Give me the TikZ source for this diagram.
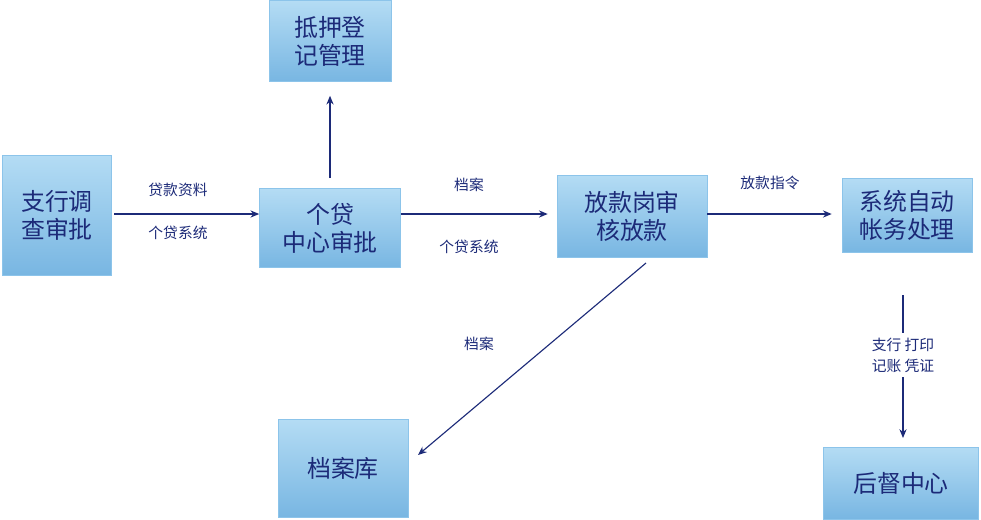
\documentclass[tikz,border=0pt]{standalone}
\usepackage{fontspec}
\setmainfont{Noto Sans CJK SC}
\usetikzlibrary{arrows.meta}
\definecolor{boxtop}{HTML}{B4DCF4}
\definecolor{boxbot}{HTML}{78B6E2}
\definecolor{boxline}{HTML}{8CC4EA}
\definecolor{ink}{HTML}{1C2A78}
\tikzset{
    x=0.025cm, y=-0.025cm,
    box/.style={draw=boxline, top color=boxtop, bottom color=boxbot, text=ink,
        font=\fontsize{17}{20}\selectfont, align=center, inner sep=0pt}, % blue boxes
    flow/.style={-{Stealth[length=2.2mm,width=1.8mm]}, draw=ink, thick}, % arrows
    lbl/.style={text=ink, font=\fontsize{10.5}{15}\selectfont, align=center},
}
\begin{document}
\begin{tikzpicture}
    \useasboundingbox (0,0) rectangle (981,520);
    \node[box, minimum width=109*0.025cm, minimum height=120*0.025cm] (zh) at (57,215) {支行调\\查审批};
    \node[box, minimum width=141*0.025cm, minimum height=79*0.025cm] (gd) at (330,228) {个贷\\中心审批};
    \node[box, minimum width=122*0.025cm, minimum height=81*0.025cm] (dy) at (330,41) {抵押登\\记管理};
    \node[box, minimum width=150*0.025cm, minimum height=82*0.025cm] (fk) at (632,216) {放款岗审\\核放款};
    \node[box, minimum width=130*0.025cm, minimum height=74*0.025cm] (xt) at (907,215) {系统自动\\帐务处理};
    \node[box, minimum width=130*0.025cm, minimum height=98*0.025cm] (da) at (343,468) {档案库};
    \node[box, minimum width=155*0.025cm, minimum height=72*0.025cm] (hd) at (901,483) {后督中心};
    \coordinate (a1) at (114,214);
    \coordinate (a2) at (330,178);
    \coordinate (a3) at (646,263);
    \coordinate (a4) at (903,295);
    \draw[flow] (a1) -- (gd.west |- a1);
    \draw[flow] (a2) -- ([yshift=-14*0.025cm]dy.south);
    \draw[flow] (gd.east |- a1) -- ([xshift=-9*0.025cm]fk.west |- a1);
    \draw[flow] (fk.east |- a1) -- ([xshift=-10*0.025cm]xt.west |- a1);
    \draw[flow] (a3) -- (418,455);
    \draw[flow] (a4) -- (903,438);
    \node[lbl] (t1) at (178,190) {贷款资料};
    \node[lbl] (t2) at (178,233) {个贷系统};
    \node[lbl] (t3) at (469,185) {档案};
    \node[lbl] (t4) at (469,247) {个贷系统};
    \node[lbl] (t5) at (770,183) {放款指令};
    \node[lbl] (t6) at (479,344) {档案};
    \node[lbl, fill=white] (t7) at (903,355) {支行 打印\\记账 凭证};
\end{tikzpicture}
\end{document}
